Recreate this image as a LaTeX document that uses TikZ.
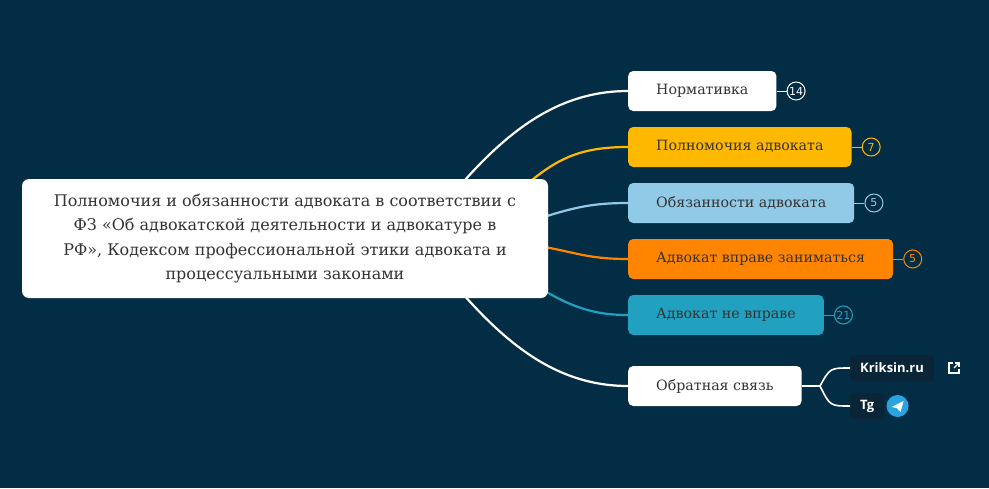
\documentclass[tikz,border=0pt]{standalone}
\usepackage{fontspec}
\setmainfont{DejaVu Serif}
\newfontfamily\badgefont{DejaVu Sans}
\newfontfamily\linkfont{Open Sans}
\usetikzlibrary{positioning}
\definecolor{bgblue}{HTML}{032D44}
\definecolor{linkbg}{HTML}{0A2538}
\definecolor{cyellow}{HTML}{FFB800}
\definecolor{clight}{HTML}{90CAE6}
\definecolor{corange}{HTML}{FF8500}
\definecolor{cteal}{HTML}{22A0C0}
\definecolor{ctext}{HTML}{333333}
\definecolor{tgblue}{HTML}{2AA3E0}
\tikzset{
  topic/.style={rounded corners=5pt,minimum height=40pt,inner xsep=28pt,
    font=\fontsize{14.2}{18}\selectfont,text=ctext,anchor=west,text depth=3pt},
  badge/.style={circle,draw,line width=1pt,minimum size=18pt,inner sep=0pt,
    font=\badgefont\fontsize{11}{12}\selectfont},
  linkbox/.style={fill=linkbg,rounded corners=3pt,text=white,anchor=west,
    font=\linkfont\bfseries\fontsize{13}{15}\selectfont,minimum height=26pt,inner xsep=10pt},
  branch/.style={line width=2.2pt}
}
\begin{document}
\begin{tikzpicture}[x=1pt,y=-1pt]
\fill[bgblue] (0,0) rectangle (989,488);
\useasboundingbox (0,0) rectangle (989,488);

% child topics
\node[topic,fill=white] (norm) at (628,91) {Нормативка};
\node[topic,fill=cyellow] (powers) at (628,147) {Полномочия адвоката};
\node[topic,fill=clight] (duties) at (628,203) {Обязанности адвоката};
\node[topic,fill=corange] (may) at (628,259) {Адвокат вправе заниматься};
\node[topic,fill=cteal] (maynot) at (628,315) {Адвокат не вправе};
\node[topic,fill=white] (fb) at (628,386) {Обратная связь};

% connectors from the root
\draw[branch,white] (400,260) .. controls (470,170) and (530,91) .. (norm.west);
\draw[branch,cyellow] (470,238) .. controls (540,170) and (560,147) .. (powers.west);
\draw[branch,clight] (470,238) .. controls (560,215) and (570,203) .. (duties.west);
\draw[branch,corange] (470,238) .. controls (570,245) and (570,259) .. (may.west);
\draw[branch,cteal] (470,238) .. controls (550,300) and (580,315) .. (maynot.west);
\draw[branch,white] (400,216) .. controls (470,306) and (530,386) .. (fb.west);

% root
\node[fill=white,rounded corners=7pt,minimum width=526pt,minimum height=119pt,
  align=center,text=ctext,font=\fontsize{16}{24.5}\selectfont] (root) at (285,238.5)
  {Полномочия и обязанности адвоката в соответствии с\\
   ФЗ «Об адвокатской деятельности и адвокатуре в\\
   РФ», Кодексом профессиональной этики адвоката и\\
   процессуальными законами};

% badges
\node[badge,draw=white,text=white,right=10pt of norm] (bnorm) {14};
\node[badge,draw=cyellow,text=cyellow,right=10pt of powers] (bpowers) {7};
\node[badge,draw=clight,text=clight,right=10pt of duties] (bduties) {5};
\node[badge,draw=corange,text=corange,right=10pt of may] (bmay) {5};
\node[badge,draw=cteal,text=cteal,right=10pt of maynot] (bmaynot) {21};
\draw[white,line width=1pt] (norm.east) -- (bnorm);
\draw[cyellow,line width=1pt] (powers.east) -- (bpowers);
\draw[clight,line width=1pt] (duties.east) -- (bduties);
\draw[corange,line width=1pt] (may.east) -- (bmay);
\draw[cteal,line width=1pt] (maynot.east) -- (bmaynot);

% links
\node[linkbox] (site) at (850,368) {Kriksin.ru};
\node[linkbox] (tg) at (850,406) {Tg};
\coordinate (fork) at (820,386);
\draw[white,line width=1.6pt] (fb.east) -- (fork);
\draw[white,line width=1.6pt] (fork) .. controls (830,368) .. (site.west);
\draw[white,line width=1.6pt] (fork) .. controls (830,406) .. (tg.west);

% external link icon
\begin{scope}[shift={(954,368)},white,line width=1.1pt]
\draw (-1,-5) -- (-5,-5) -- (-5,5) -- (5,5) -- (5,1);
\draw (0,0) -- (5,-5);
\draw (1,-5) -- (5,-5) -- (5,-1);
\end{scope}
% telegram icon
\node[circle,fill=tgblue,minimum size=22pt,inner sep=0pt,right=2pt of tg] (tgicon) {};
\fill[white] ([shift={(-6,1)}]tgicon.center) -- ([shift={(6,-5)}]tgicon.center)
  -- ([shift={(3,6)}]tgicon.center) -- ([shift={(-1,2)}]tgicon.center) -- cycle;
\end{tikzpicture}
\end{document}
